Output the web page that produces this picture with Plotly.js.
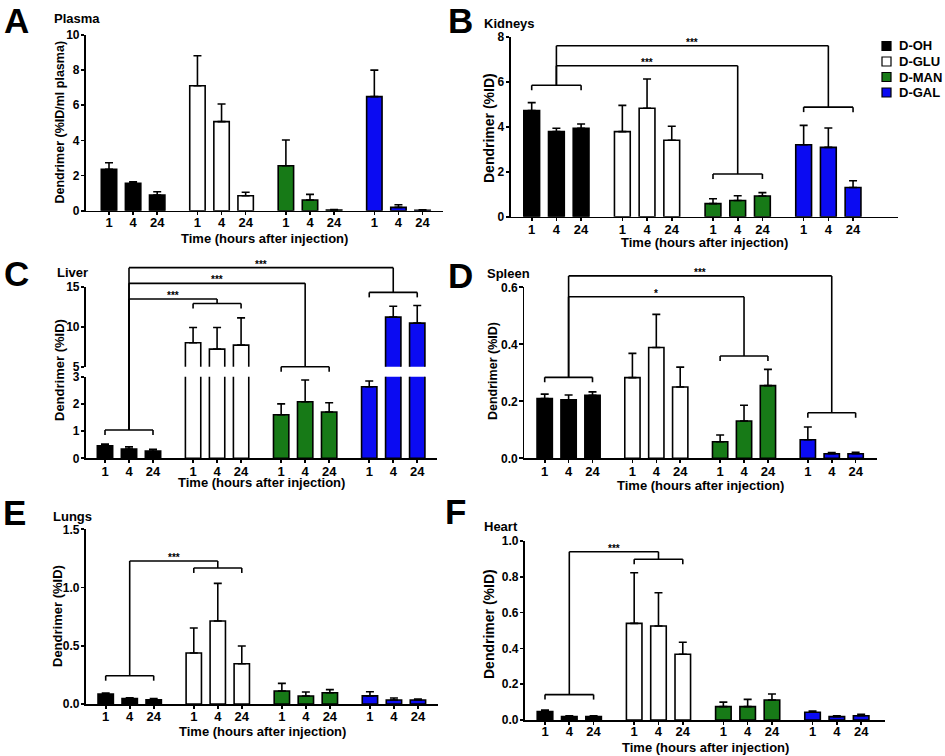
<!DOCTYPE html>
<html><head><meta charset="utf-8">
<script src="https://cdn.plot.ly/plotly-3.0.1.min.js"></script>
<style>html,body{margin:0;padding:0;background:#fff}</style>
</head><body><div id="chart" style="width:945px;height:756px"></div>
<script>
// ---------- data ----------
const groups = ['D-OH', 'D-GLU', 'D-MAN', 'D-GAL'];
const times = ['1', '4', '24'];
const groupColors = ['#000000', '#ffffff', '#177a17', '#0b0bf2'];

const plasmaMean  = [2.36, 1.56, 0.89, 7.11, 5.07, 0.85, 2.56, 0.61, 0.03, 6.49, 0.19, 0.02];
const plasmaSem   = [0.37, 0.09, 0.19, 1.71, 1.00, 0.20, 1.46, 0.32, 0.03, 1.51, 0.15, 0.03];

const kidneysMean = [4.72, 3.78, 3.93, 3.78, 4.82, 3.40, 0.58, 0.72, 0.92, 3.20, 3.08, 1.30];
const kidneysSem  = [0.35, 0.15, 0.19, 1.17, 1.30, 0.62, 0.22, 0.21, 0.15, 0.86, 0.86, 0.30];

const liverMean   = [0.46, 0.34, 0.27, 8.00, 7.20, 7.70, 1.60, 2.08, 1.70, 2.63, 11.20, 10.45];
const liverSem    = [0.06, 0.08, 0.06, 1.90, 2.70, 3.40, 0.40, 0.80, 0.34, 0.21, 1.35, 2.20];

const spleenMean  = [0.210, 0.205, 0.221, 0.283, 0.389, 0.250, 0.058, 0.131, 0.255, 0.065, 0.016, 0.016];
const spleenSem   = [0.015, 0.017, 0.012, 0.085, 0.116, 0.070, 0.024, 0.055, 0.057, 0.045, 0.004, 0.005];

const lungsMean   = [0.085, 0.046, 0.037, 0.438, 0.713, 0.346, 0.112, 0.069, 0.097, 0.070, 0.034, 0.034];
const lungsSem    = [0.010, 0.008, 0.009, 0.215, 0.323, 0.152, 0.065, 0.034, 0.026, 0.035, 0.018, 0.009];

const heartMean   = [0.047, 0.019, 0.019, 0.540, 0.525, 0.367, 0.075, 0.075, 0.112, 0.043, 0.019, 0.024];
const heartSem    = [0.009, 0.005, 0.005, 0.283, 0.186, 0.067, 0.025, 0.040, 0.033, 0.007, 0.005, 0.008];

// significance brackets: [group, level(, axis part)] and links [groupA, groupB, level, label]
const kidneysGroupBrackets = [[0, 5.84], [2, 1.9], [3, 4.87]];
const kidneysLinks = [[0, 3, 7.6, '***'], [0, 2, 6.71, '***']];
const liverGroupBrackets = [[0, 1.04, 'lo'], [1, 12.9, 'hi'], [2, 5.0, 'hi'], [3, 14.29, 'hi']];
const liverLinks = [[0, 1, 13.46, '***'], [0, 2, 15.42, '***'], [0, 3, 17.38, '***']];
const spleenGroupBrackets = [[0, 0.284], [2, 0.359], [3, 0.16]];
const spleenLinks = [[0, 3, 0.64, '***'], [0, 2, 0.567, '*']];
const lungsGroupBrackets = [[0, 0.243], [1, 1.168]];
const lungsLinks = [[0, 1, 1.228, '***']];
const heartGroupBrackets = [[0, 0.142], [1, 0.898]];
const heartLinks = [[0, 1, 0.94, '***']];

const xTitle = 'Time (hours after injection)';

// ---------- layout helpers ----------
const W = 945, H = 756;
const FONT = 'Liberation Sans, Arial, sans-serif';
const S = 3.67; // group spacing in bar units
const xs = [];
groups.forEach((_, g) => times.forEach((_, i) => xs.push(g * S + i)));
const xTickText = [];
groups.forEach(() => times.forEach(t => xTickText.push(t)));

const px = x => x / W;
const py = y => 1 - y / H;

const panels = [
  {letter: 'A', name: 'Plasma', ytitle: 'Dendrimer (%ID/ml plasma)', mean: plasmaMean, sem: plasmaSem,
   xPix: [86, 443], c0: 109, u: 24.1, main: {pix: [35, 210.7], range: [0, 10]}, tickvals: [0, 2, 4, 6, 8, 10], fmt: 'd',
   letterPos: [16, 20.5], namePos: [52, 19], ytf: 12.5, yTitlePos: [60, 122.5], xTitlePos: 238.5, xLabShift: -4,
   gb: [], links: []},
  {letter: 'B', name: 'Kidneys', ytitle: 'Dendrimer (%ID)', mean: kidneysMean, sem: kidneysSem,
   xPix: [510.7, 898], c0: 531.7, u: 24.7, main: {pix: [36.7, 216.7], range: [0, 8]}, tickvals: [0, 2, 4, 6, 8], fmt: 'd',
   letterPos: [460, 20.5], namePos: [482, 23], ytf: 14, yTitlePos: [489, 128], xTitlePos: 242, xLabShift: -3,
   gb: kidneysGroupBrackets, links: kidneysLinks},
  {letter: 'C', name: 'Liver', ytitle: 'Dendrimer (%ID)', mean: liverMean, sem: liverSem,
   xPix: [86, 437], c0: 105, u: 24, main: {pix: [376.7, 458.3], range: [0, 3]}, tickvals: [0, 1, 2, 3], fmt: 'd',
   upper: {pix: [286.7, 366.7], range: [5, 15]}, upperTicks: [5, 10, 15],
   letterPos: [16, 273], namePos: [55, 272], ytf: 13, yTitlePos: [59, 370], xTitlePos: 482.5, xLabShift: -3,
   gb: liverGroupBrackets, links: liverLinks},
  {letter: 'D', name: 'Spleen', ytitle: 'Dendrimer (%ID)', mean: spleenMean, sem: spleenSem,
   xPix: [524.3, 876.7], c0: 544.7, u: 23.9, main: {pix: [287.3, 458.3], range: [0, 0.6]}, tickvals: [0, 0.2, 0.4, 0.6], fmt: '.1f',
   letterPos: [460, 275], namePos: [485, 273.5], ytf: 12.5, yTitlePos: [493, 371], xTitlePos: 485, xLabShift: -3,
   gb: spleenGroupBrackets, links: spleenLinks},
  {letter: 'E', name: 'Lungs', ytitle: 'Dendrimer (%ID)', mean: lungsMean, sem: lungsSem,
   xPix: [86, 438.3], c0: 105.7, u: 24, main: {pix: [529.3, 704], range: [0, 1.5]}, tickvals: [0, 0.5, 1.0, 1.5], fmt: '.1f',
   letterPos: [14, 512], namePos: [51, 516], ytf: 13, yTitlePos: [57, 616], xTitlePos: 731.5, xLabShift: -3,
   gb: lungsGroupBrackets, links: lungsLinks},
  {letter: 'F', name: 'Heart', ytitle: 'Dendrimer (%ID)', mean: heartMean, sem: heartSem,
   xPix: [525, 885], c0: 545, u: 24.3, main: {pix: [541, 720], range: [0, 1]}, tickvals: [0, 0.2, 0.4, 0.6, 0.8, 1.0], fmt: '.1f',
   letterPos: [455, 511], namePos: [482, 526], ytf: 14, yTitlePos: [489, 624], xTitlePos: 747, xLabShift: -4,
   gb: heartGroupBrackets, links: heartLinks}
];

const traces = [];
const layout = {
  width: W, height: H, margin: {l: 0, r: 0, t: 0, b: 0},
  paper_bgcolor: '#ffffff', plot_bgcolor: 'rgba(0,0,0,0)',
  barmode: 'overlay', showlegend: false,
  font: {family: FONT, color: '#000', weight: 700},
  shapes: [], annotations: []
};

const LW = 1.6;
function bold(size) { return {family: FONT, size: size, color: '#000', weight: 700}; }

function addBars(p, xa, ya) {
  groups.forEach((gname, g) => {
    const idx = [0, 1, 2].map(i => g * 3 + i);
    traces.push({
      type: 'bar', name: gname, xaxis: xa, yaxis: ya,
      x: idx.map(j => xs[j]), y: idx.map(j => p.mean[j]), width: 0.64,
      marker: {color: groupColors[g], line: {color: '#000', width: LW}},
      error_y: {type: 'data', symmetric: false, array: idx.map(j => p.sem[j]), arrayminus: [0, 0, 0],
                color: '#000', thickness: LW, width: 4},
      hoverinfo: 'skip', showlegend: false
    });
  });
}

function yAxisCommon(tickvals, fmt) {
  return {showline: true, linewidth: LW, linecolor: '#000', ticks: 'outside', ticklen: 3.5, tickwidth: LW,
          tickcolor: '#000', showgrid: false, zeroline: false, tickvals: tickvals, tickformat: fmt,
          tickfont: bold(12), ticklabelstandoff: -1, fixedrange: true};
}

panels.forEach((p, k) => {
  const n = k + 1;
  const xa = 'x' + n, ya = 'y' + n;
  const xr = [-(p.c0 - p.xPix[0]) / p.u, (p.xPix[1] - p.c0) / p.u];
  layout['xaxis' + n] = {
    domain: [px(p.xPix[0]), px(p.xPix[1])], range: xr, anchor: ya,
    showline: true, linewidth: LW, linecolor: '#000', ticks: 'outside', ticklen: 3, tickwidth: LW, tickcolor: '#000',
    showgrid: false, zeroline: false, tickvals: xs, ticktext: xTickText, tickfont: bold(13),
    ticklabelstandoff: p.xLabShift, fixedrange: true
  };
  layout['yaxis' + n] = Object.assign(yAxisCommon(p.tickvals, p.fmt), {
    domain: [py(p.main.pix[1]), py(p.main.pix[0])], range: p.main.range, anchor: xa
  });
  addBars(p, xa, ya);

  if (p.upper) {
    layout.yaxis7 = Object.assign(yAxisCommon(p.upperTicks, 'd'), {
      domain: [py(p.upper.pix[1]), py(p.upper.pix[0])], range: p.upper.range, anchor: xa
    });
    addBars(p, xa, 'y7');
  }

  // axis titles
  layout.annotations.push({xref: 'paper', yref: 'paper', x: px(p.yTitlePos[0]), y: py(p.yTitlePos[1]),
    text: p.ytitle, textangle: -90, showarrow: false, font: bold(p.ytf), xanchor: 'center', yanchor: 'middle'});
  layout.annotations.push({xref: 'paper', yref: 'paper', x: px((p.xPix[0] + p.xPix[1]) / 2), y: py(p.xTitlePos),
    text: xTitle, showarrow: false, font: bold(13), xanchor: 'center', yanchor: 'middle'});

  // panel letter & organ name
  layout.annotations.push({xref: 'paper', yref: 'paper', x: px(p.letterPos[0]), y: py(p.letterPos[1]),
    text: p.letter, showarrow: false, font: bold(35), xanchor: 'center', yanchor: 'middle'});
  layout.annotations.push({xref: 'paper', yref: 'paper', x: px(p.namePos[0]), y: py(p.namePos[1]),
    text: p.name, showarrow: false, font: bold(13), xanchor: 'left', yanchor: 'middle'});

  // significance brackets
  const yP = (v, key) => {
    const ax = key === 'hi' ? p.upper : p.main;
    const pix = ax.pix[1] - (v - ax.range[0]) / (ax.range[1] - ax.range[0]) * (ax.pix[1] - ax.pix[0]);
    return py(pix);
  };
  const tick = 5 / H;
  const line = (x0, y0, x1, y1) => layout.shapes.push({type: 'line', xref: xa, yref: 'paper',
    x0: x0, y0: y0, x1: x1, y1: y1, line: {color: '#000', width: LW}});
  const bracketY = {};
  p.gb.forEach(([g, v, key]) => {
    const y = yP(v, key);
    bracketY[g] = y;
    line(g * S, y, g * S + 2, y);
    line(g * S, y, g * S, y - tick);
    line(g * S + 2, y, g * S + 2, y - tick);
  });
  p.links.forEach(([ga, gb, v, label]) => {
    const y = yP(v, p.upper ? 'hi' : 'main');
    const xa0 = ga * S + 1, xb0 = gb * S + 1;
    line(xa0, bracketY[ga], xa0, y);
    line(xa0, y, xb0, y);
    line(xb0, y, xb0, bracketY[gb]);
    layout.annotations.push({xref: xa, yref: 'paper', x: (xa0 + xb0) / 2, y: y, text: label,
      showarrow: false, font: bold(10), xanchor: 'center', yanchor: 'bottom', yshift: -4});
  });
});

// legend (drawn beside panel B)
const legendRows = [46, 61.5, 77, 92.5];
groups.forEach((gname, g) => {
  const yc = legendRows[g];
  layout.shapes.push({type: 'rect', xref: 'paper', yref: 'paper',
    x0: px(882), x1: px(891), y0: py(yc + 4.5), y1: py(yc - 4.5),
    fillcolor: groupColors[g], line: {color: '#000', width: 1.2}});
  layout.annotations.push({xref: 'paper', yref: 'paper', x: px(897), y: py(yc), text: gname,
    showarrow: false, font: bold(13), xanchor: 'left', yanchor: 'middle'});
});

Plotly.newPlot('chart', traces, layout, {staticPlot: true, displayModeBar: false});
</script>
</body></html>
